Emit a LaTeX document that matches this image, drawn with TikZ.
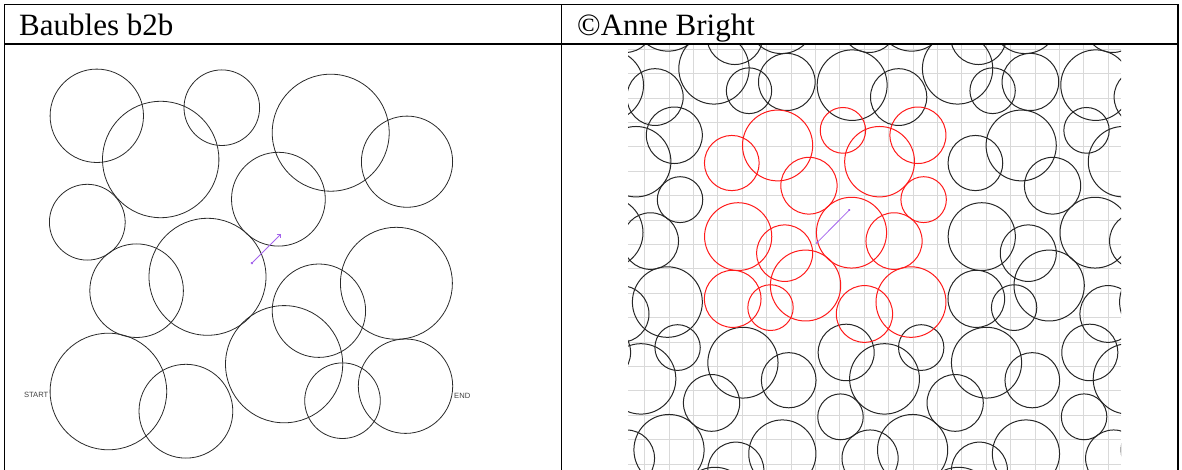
\documentclass[tikz,border=0pt]{standalone}
\usepackage{fontspec}
\setmainfont{Liberation Serif}
\newfontfamily\screenfont{Liberation Sans}
\usetikzlibrary{arrows.meta}
\definecolor{qgrid}{HTML}{D9D9D9}
\definecolor{qred}{HTML}{FF1A1A}
\definecolor{qpath}{HTML}{A464EC}
\definecolor{qline}{HTML}{2A2A2A}
\tikzset{
    cellline/.style={line width=1.6pt, black},
    bauble/.style={draw=qline, line width=0.8pt},
    gridline/.style={qgrid, line width=1pt},
    tilebauble/.style={draw=black!85, line width=1pt},
    redbauble/.style={draw=qred, line width=1pt},
    cellhead/.style={anchor=base west, inner sep=0pt, font=\fontsize{31}{37}\selectfont},
    screenlabel/.style={inner sep=0pt, font=\screenfont\fontsize{7.6}{9}\selectfont, text=black!75},
    pathline/.style={qpath, line width=0.8pt}
}
% one block: centre x / centre y / radius
\newcommand{\baubleblock}{96.8/115.8/46.7, 160.7/159.5/58.2, 221.8/107.7/37.8,
    330.7/132.7/58.5, 407/161.7/45.6, 278.4/199.2/46.9, 87.3/222.2/37.9,
    207.5/276.8/58.5, 136.6/290.7/46.8, 396.4/283.3/56, 318.9/310.7/46.7,
    284.1/364.2/58.6, 108.4/391.5/58.3, 185.9/411.2/46.9, 342.5/400.7/37.8,
    405.5/386.2/47.2}
\begin{document}
\begin{tikzpicture}[x=1pt, y=-1pt]
    \useasboundingbox (0,0) rectangle (1182,470);

    % Right cell: grid and tiled blocks
    \begin{scope}
        \clip (628,45) rectangle (1121,470);
        \foreach \gx in {0,...,19}
            \draw[gridline] (644.7+24.4*\gx,45) -- (644.7+24.4*\gx,470);
        \foreach \gy in {0,...,17}
            \draw[gridline] (628,49.3+24.4*\gy) -- (1121,49.3+24.4*\gy);
        \foreach \k in {-1,0,1,2} {
            \begin{scope}[shift={(543.5+243.6*\k,-151.7)}, xscale=0.6, yscale=0.605]
                \foreach \bx/\by/\br in \baubleblock
                    \draw[tilebauble] (\bx,\by) circle (\br);
            \end{scope}
            \begin{scope}[shift={(544.5+243.6*\k,282.4)}, xscale=0.6, yscale=0.605]
                \foreach \bx/\by/\br in \baubleblock
                    \draw[tilebauble] (\bx,\by) circle (\br);
            \end{scope}
        }
        \foreach \k in {-1,1,2} {
            \begin{scope}[shift={(976+243.6*\k,65.2)}, xscale=-0.6, yscale=0.605]
                \foreach \bx/\by/\br in \baubleblock
                    \draw[tilebauble] (\bx,\by) circle (\br);
            \end{scope}
        }
        % highlighted block
        \begin{scope}[shift={(976,65.2)}, xscale=-0.6, yscale=0.605]
            \foreach \bx/\by/\br in \baubleblock
                \draw[redbauble] (\bx,\by) circle (\br);
        \end{scope}
    \end{scope}

    % Left cell: the block
    \foreach \bx/\by/\br in \baubleblock
        \draw[bauble] (\bx,\by) circle (\br);

    % Table
    \draw[cellline] (4.5,4.5) -- (1178,4.5);
    \draw[cellline] (4.5,44) -- (1178,44);
    \draw[cellline] (4.5,4.5) -- (4.5,470);
    \draw[cellline] (561.5,4.5) -- (561.5,470);
    \draw[cellline] (1178,4.5) -- (1178,470);

    % Nodes
    \node[cellhead] (title) at (19,36) {Baubles b2b};
    \node[cellhead] (credit) at (577,36) {©Anne Bright};
    \node[screenlabel, anchor=east] (start) at (48.5,395) {START};
    \node[screenlabel, anchor=west] (end) at (454,396) {END};

    % Path markers
    \coordinate (lefttail) at (251,264);
    \coordinate (lefthead) at (280.5,234.5);
    \coordinate (righttail) at (850,209.3);
    \coordinate (righthead) at (815.7,244);
    \draw[pathline, {Circle[length=2.5pt]}-{Straight Barb[length=2.5pt]}] (lefttail) -- (lefthead);
    \draw[pathline, {Circle[length=2pt]}-{Stealth[length=3.5pt]}] (righttail) -- (righthead);
\end{tikzpicture}
\end{document}
